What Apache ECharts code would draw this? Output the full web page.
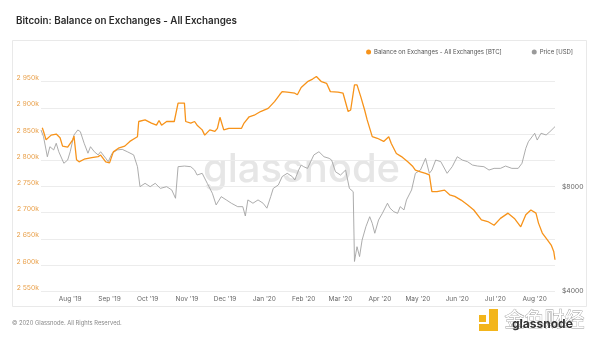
<!DOCTYPE html>
<html>
<head>
<meta charset="utf-8">
<script src="https://cdn.jsdelivr.net/npm/echarts@6/dist/echarts.min.js"></script>
<style>
  html, body { margin: 0; padding: 0; background: #fff; }
  #chart { width: 600px; height: 338px; }
</style>
</head>
<body>
<div id="chart"></div>
<script>
// Exchange balance (BTC), sampled at the turning points of the curve
const balanceDates = [
  '2019-07-10','2019-07-11','2019-07-13','2019-07-17','2019-07-21','2019-07-24','2019-07-26','2019-07-30',
  '2019-08-03','2019-08-04','2019-08-06','2019-08-08','2019-08-12','2019-08-18','2019-08-23','2019-08-25','2019-08-29',
  '2019-09-01','2019-09-04','2019-09-08','2019-09-13','2019-09-17','2019-09-21','2019-09-23','2019-09-24','2019-09-29',
  '2019-10-04','2019-10-08','2019-10-10','2019-10-12','2019-10-16','2019-10-22','2019-10-23','2019-10-25','2019-10-30','2019-10-31',
  '2019-11-04','2019-11-07','2019-11-09','2019-11-13','2019-11-15','2019-11-19','2019-11-23','2019-11-25','2019-11-27','2019-11-30',
  '2019-12-04','2019-12-08','2019-12-14','2019-12-16','2019-12-20','2019-12-24','2019-12-29',
  '2020-01-04','2020-01-09','2020-01-13','2020-01-15','2020-01-19','2020-01-25','2020-01-27','2020-01-30',
  '2020-02-04','2020-02-08','2020-02-11','2020-02-15','2020-02-19','2020-02-22','2020-02-28',
  '2020-03-03','2020-03-07','2020-03-09','2020-03-12','2020-03-14','2020-03-17','2020-03-20','2020-03-22','2020-03-26','2020-03-30',
  '2020-04-04','2020-04-08','2020-04-10','2020-04-14','2020-04-18','2020-04-23','2020-04-27','2020-04-29',
  '2020-05-03','2020-05-07','2020-05-10','2020-05-11','2020-05-12','2020-05-16','2020-05-22','2020-05-26','2020-05-30',
  '2020-06-04','2020-06-09','2020-06-14','2020-06-20','2020-06-25','2020-06-30',
  '2020-07-05','2020-07-11','2020-07-16','2020-07-21','2020-07-25','2020-07-29',
  '2020-08-02','2020-08-04','2020-08-07','2020-08-11','2020-08-14','2020-08-16','2020-08-17'
];
const balanceValues = [
  2862000,2855000,2839000,2848000,2850000,2843000,2827000,2825000,
  2839000,2846000,2801000,2797000,2802000,2805000,2807000,2810000,2797000,
  2795000,2816000,2823000,2827000,2836000,2842000,2845000,2874000,2877000,
  2871000,2867000,2876000,2867000,2874000,2874000,2871000,2909000,2909000,2874000,
  2871000,2874000,2867000,2858000,2848000,2858000,2855000,2861000,2882000,2858000,
  2861000,2861000,2861000,2871000,2883000,2886000,2893000,
  2899000,2912000,2925000,2931000,2930000,2928000,2925000,2939000,
  2950000,2955000,2960000,2950000,2947000,2931000,2930000,
  2928000,2893000,2896000,2944000,2944000,2921000,2896000,2877000,2845000,2842000,
  2836000,2845000,2832000,2813000,2807000,2797000,2788000,2781000,
  2778000,2775000,2772000,2756000,2740000,2740000,2743000,2734000,2731000,
  2724000,2715000,2705000,2686000,2683000,2676000,
  2689000,2699000,2689000,2673000,2696000,2705000,
  2699000,2680000,2661000,2648000,2638000,2626000,2610000
];

// BTC price (USD)
const priceDates = [
  '2019-07-09','2019-07-11','2019-07-14','2019-07-16','2019-07-19','2019-07-21','2019-07-23','2019-07-27','2019-07-30',
  '2019-08-01','2019-08-04','2019-08-07','2019-08-09','2019-08-12','2019-08-15','2019-08-17','2019-08-20','2019-08-23','2019-08-25','2019-08-29','2019-08-31',
  '2019-09-03','2019-09-07','2019-09-11','2019-09-15','2019-09-20','2019-09-23','2019-09-25','2019-09-29',
  '2019-10-03','2019-10-07','2019-10-11','2019-10-16','2019-10-20','2019-10-23','2019-10-25','2019-10-30',
  '2019-11-04','2019-11-07','2019-11-09','2019-11-13','2019-11-17','2019-11-21','2019-11-24','2019-11-28',
  '2019-12-02','2019-12-06','2019-12-11','2019-12-15','2019-12-17','2019-12-19','2019-12-23','2019-12-27','2019-12-31',
  '2020-01-03','2020-01-06','2020-01-08','2020-01-12','2020-01-15','2020-01-19','2020-01-23','2020-01-25','2020-01-28','2020-01-30',
  '2020-02-01','2020-02-04','2020-02-09','2020-02-13','2020-02-17','2020-02-21','2020-02-23','2020-02-26',
  '2020-03-01','2020-03-05','2020-03-08','2020-03-11','2020-03-12','2020-03-14','2020-03-16','2020-03-18','2020-03-21','2020-03-24','2020-03-26','2020-03-28','2020-03-31',
  '2020-04-03','2020-04-07','2020-04-09','2020-04-12','2020-04-15','2020-04-17','2020-04-20','2020-04-22','2020-04-26','2020-04-29',
  '2020-05-03','2020-05-07','2020-05-10','2020-05-12','2020-05-15','2020-05-19','2020-05-24','2020-05-28',
  '2020-06-01','2020-06-05','2020-06-09','2020-06-13','2020-06-17','2020-06-22','2020-06-26','2020-06-30',
  '2020-07-05','2020-07-09','2020-07-14','2020-07-19','2020-07-22','2020-07-25','2020-07-27',
  '2020-08-01','2020-08-03','2020-08-06','2020-08-10','2020-08-13','2020-08-17'
];
const priceValues = [
  11630,11120,9740,10410,10190,10650,10070,9330,9530,
  10070,11250,11630,11500,10650,9970,10410,10070,9860,10070,9640,9430,
  9970,10190,10230,10070,9860,9120,7990,8170,
  7990,8170,7900,7990,7820,7400,9120,9160,
  9120,8920,8630,8730,8170,7650,7080,7480,
  7320,7160,7000,7000,6580,7320,7160,7320,7160,
  6930,7480,7900,8080,8540,8730,8540,8350,8920,9220,
  9120,9020,9860,10070,9740,9640,9530,8820,
  8630,8920,7900,7730,4870,5370,5030,5610,6130,6550,6270,5870,6410,
  6700,7160,6930,6770,6700,7000,6850,7320,7820,8730,
  8920,9640,8730,8920,9530,9430,8730,9120,
  9740,9530,9430,9220,9160,9120,8920,9020,
  9020,9160,9020,9020,9330,10300,10760,
  11380,10880,11380,11250,11500,11890
];

// Axis settings
const xStart = '2019-07-09';
const xEnd = '2020-08-17';
const balanceMin = 2550000, balanceMax = 3000000, balanceStep = 50000;
const priceMin = 4000, priceMax = 19040;
const priceTickLabels = [4000, 8000];
// The log-2 price axis runs in steps of $125 so that its doublings land on $4000, $8000, ...
const priceUnit = 125;
const monthNames = ['Jan','Feb','Mar','Apr','May','Jun','Jul','Aug','Sep','Oct','Nov','Dec'];

const FONT = 'Inter, "Noto Sans", sans-serif';
const ORANGE = '#f7931a';

const chart = echarts.init(document.getElementById('chart'), null, { renderer: 'canvas' });

chart.setOption({
  animation: false,
  backgroundColor: '#fff',
  textStyle: { fontFamily: FONT },
  title: {
    text: 'Bitcoin: Balance on Exchanges - All Exchanges',
    left: 11, top: 11,
    textStyle: { fontSize: 9.8, fontWeight: 600, color: '#2b2b2b', fontFamily: FONT }
  },
  legend: {
    right: 22, top: 44,
    icon: 'circle', itemWidth: 5, itemHeight: 5, itemGap: 30,
    textStyle: { fontSize: 6, color: '#555', fontFamily: FONT, padding: [0, 0, 0, -2] },
    data: ['Balance on Exchanges - All Exchanges [BTC]', 'Price [USD]']
  },
  tooltip: { show: false },
  grid: { left: 41, right: 45, top: 55.5, bottom: 46.8, containLabel: false },
  xAxis: {
    type: 'time',
    min: xStart, max: xEnd,
    minInterval: 28 * 864e5, maxInterval: 31 * 864e5,
    axisLine: { show: false }, axisTick: { show: false }, splitLine: { show: false },
    axisLabel: {
      fontSize: 6.5, color: '#666', margin: 4, hideOverlap: false,
      formatter: function (v) {
        const d = new Date(v);
        if (d.getDate() !== 1) return '';
        return monthNames[d.getMonth()] + " '" + String(d.getFullYear()).slice(2);
      }
    }
  },
  yAxis: [
    {
      type: 'value', position: 'left',
      min: balanceMin, max: balanceMax, interval: balanceStep,
      axisLine: { show: false }, axisTick: { show: false },
      splitLine: { show: true, showMaxLine: false, lineStyle: { color: '#ececec', width: 1 } },
      axisLabel: {
        fontSize: 6.8, color: '#e9a04a', margin: 2, verticalAlign: 'bottom', showMaxLabel: false,
        formatter: function (v) {
          const k = Math.round(v / 1000);
          return Math.floor(k / 1000) + ' ' + String(k % 1000).padStart(3, '0') + 'k';
        }
      }
    },
    {
      type: 'log', logBase: 2, position: 'right',
      min: priceMin / priceUnit, max: priceMax / priceUnit,
      axisLine: { show: false }, axisTick: { show: false }, splitLine: { show: false },
      axisLabel: {
        fontSize: 6.8, color: '#666', margin: 7, showMaxLabel: false,
        formatter: function (v) {
          const usd = Math.round(v * priceUnit);
          return priceTickLabels.some(t => Math.abs(t - usd) < 2) ? '$' + usd : '';
        }
      }
    }
  ],
  series: [
    {
      name: 'Price [USD]', type: 'line', yAxisIndex: 1,
      showSymbol: false, symbol: 'circle',
      itemStyle: { color: '#9a9a9a' },
      lineStyle: { color: '#a3a3a3', width: 0.9 },
      data: priceDates.map((d, i) => [d, priceValues[i] / priceUnit]),
      z: 3
    },
    {
      name: 'Balance on Exchanges - All Exchanges [BTC]', type: 'line', yAxisIndex: 0,
      showSymbol: false, symbol: 'circle',
      itemStyle: { color: ORANGE },
      lineStyle: { color: ORANGE, width: 1.3 },
      data: balanceDates.map((d, i) => [d, balanceValues[i]]),
      z: 4
    }
  ],
  graphic: [
    // panel frame
    { type: 'rect', z: -1, silent: true,
      shape: { x: 12.5, y: 40.5, width: 574, height: 266 },
      style: { fill: 'none', stroke: '#e9e9e9', lineWidth: 1 } },
    // watermark
    { type: 'text', z: 0, silent: true, left: 203, top: 150,
      style: { text: 'glassnode', fontSize: 40, fontWeight: 500, fontFamily: FONT, fill: '#e6e6e6' } },
    // footer
    { type: 'text', silent: true, left: 12, top: 320,
      style: { text: '\u00a9 2020 Glassnode. All Rights Reserved.', fontSize: 5.8, fontFamily: FONT, fill: '#888' } },
    // publisher mark
    { type: 'rect', silent: true, shape: { x: 479, y: 315, width: 7, height: 7 }, style: { fill: '#f3b51b' } },
    { type: 'rect', silent: true, shape: { x: 489, y: 309, width: 9, height: 22 }, style: { fill: '#f3b51b' } },
    { type: 'rect', silent: true, shape: { x: 479, y: 324, width: 19, height: 7 }, style: { fill: '#f3b51b' } },
    { type: 'text', silent: true, left: 504, top: 309,
      style: { text: '金色财经', fontSize: 20, fontFamily: '"Noto Sans CJK SC", sans-serif', fill: '#fff', stroke: '#9a9a9a', lineWidth: 0.8 } },
    { type: 'text', silent: true, left: 512, top: 318,
      style: { text: 'glassnode', fontSize: 12, fontWeight: 700, fontFamily: FONT, fill: '#333' } }
  ]
});
</script>
</body>
</html>
